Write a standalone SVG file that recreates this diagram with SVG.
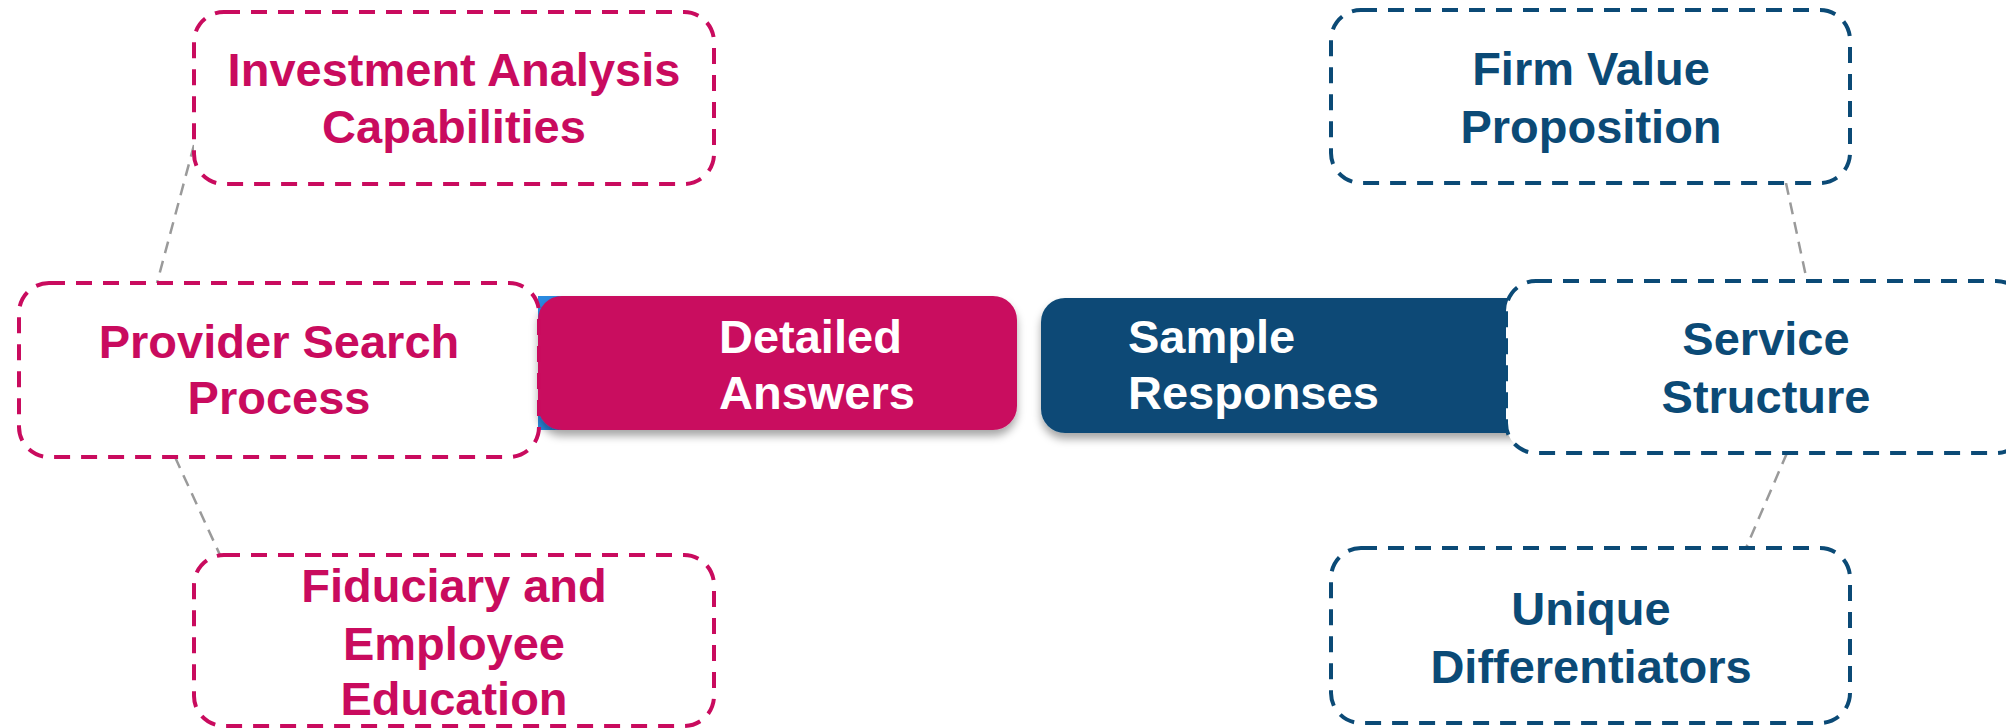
<svg xmlns="http://www.w3.org/2000/svg" width="2006" height="728" viewBox="0 0 2006 728">
<style>
.pk{fill:#fff;stroke:#C90B5E;stroke-width:4;stroke-dasharray:16 11}
.nv{fill:#fff;stroke:#0B4A76;stroke-width:4;stroke-dasharray:16 11}
.t{font-family:"Liberation Sans",Arial,sans-serif;font-weight:bold;font-size:47px}
.tp{fill:#C90B5E;text-anchor:middle}
.tn{fill:#0B4A76;text-anchor:middle}
.tw{fill:#fff}
.cn{fill:none;stroke:#9a9a9a;stroke-width:2.5;stroke-dasharray:12 8}
</style>
<defs>
<filter id="sh" x="-10%" y="-20%" width="120%" height="150%">
<feDropShadow dx="0" dy="6" stdDeviation="4" flood-color="#000" flood-opacity="0.35"/>
</filter>
</defs>
<rect width="2006" height="728" fill="#fff"/>
<g id="connectors">
<line class="cn" x1="194" y1="145" x2="157" y2="283"/>
<line class="cn" x1="175" y1="457" x2="220" y2="555"/>
<line class="cn" x1="1786" y1="183" x2="1807" y2="281"/>
<line class="cn" x1="1787" y1="453" x2="1746" y2="548"/>
</g>
<g id="detailed">
<rect x="538" y="296" width="30" height="134" fill="#2a8ae0"/>
<rect x="538" y="296" width="479" height="134" rx="24" fill="#C90B5E" filter="url(#sh)"/>
<text class="t tw" x="719" y="353">Detailed</text>
<text class="t tw" x="719" y="409">Answers</text>
</g>
<g id="sample">
<rect x="1041" y="298" width="500" height="135" rx="24" fill="#0B4A76" filter="url(#sh)"/>
<text class="t tw" x="1128" y="353">Sample</text>
<text class="t tw" x="1128" y="409">Responses</text>
</g>
<g id="investment">
<rect class="pk" x="194" y="12" width="520" height="172" rx="30"/>
<text class="t tp" x="454" y="86">Investment Analysis</text>
<text class="t tp" x="454" y="143">Capabilities</text>
</g>
<g id="provider">
<rect class="pk" x="19" y="283" width="520" height="174" rx="30" fill-opacity="0"/>
<text class="t tp" x="279" y="358">Provider Search</text>
<text class="t tp" x="279" y="414">Process</text>
</g>
<g id="fiduciary">
<rect class="pk" x="194" y="555" width="520" height="171" rx="30"/>
<text class="t tp" x="454" y="602">Fiduciary and</text>
<text class="t tp" x="454" y="660">Employee</text>
<text class="t tp" x="454" y="715">Education</text>
</g>
<g id="firm">
<rect class="nv" x="1331" y="10" width="519" height="173" rx="30"/>
<text class="t tn" x="1591" y="85">Firm Value</text>
<text class="t tn" x="1591" y="143">Proposition</text>
</g>
<g id="service">
<rect class="nv" x="1506" y="281" width="520" height="172" rx="30"/>
<text class="t tn" x="1766" y="355">Service</text>
<text class="t tn" x="1766" y="413">Structure</text>
</g>
<g id="unique">
<rect class="nv" x="1331" y="548" width="519" height="175" rx="30"/>
<text class="t tn" x="1591" y="625">Unique</text>
<text class="t tn" x="1591" y="683">Differentiators</text>
</g>
</svg>
